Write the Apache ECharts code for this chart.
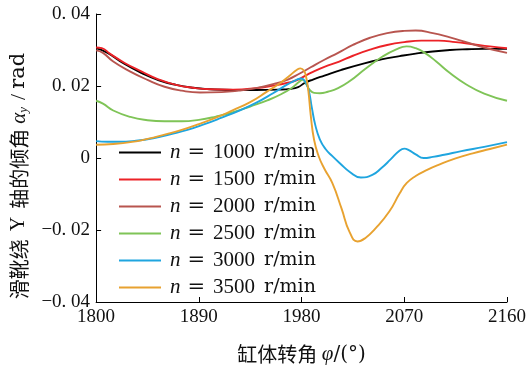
<!DOCTYPE html>
<html>
<head>
<meta charset="utf-8">
<script src="https://cdn.jsdelivr.net/npm/echarts@6/dist/echarts.min.js"></script>
<style>html,body{margin:0;padding:0;background:#fff;}#c{width:529px;height:370px;}</style>
</head>
<body>
<div id="c"></div>
<script>
const speeds = [1000, 1500, 2000, 2500, 3000, 3500];
const xTicks = [1800, 1890, 1980, 2070, 2160];
const yTicks = [-0.04, -0.02, 0, 0.02, 0.04];

const s1000 = [[1800,0.0305],[1810,0.0292],[1825,0.0261],[1840,0.0236],[1855,0.0216],[1870,0.0203],[1885,0.0195],[1900,0.0191],[1920,0.0189],[1940,0.0189],[1960,0.0190],[1970,0.0192],[1977,0.0197],[1983,0.0209],[1990,0.0218],[2000,0.0229],[2015,0.0245],[2035,0.0263],[2050,0.0274],[2066,0.0283],[2080,0.0290],[2095,0.0296],[2110,0.0300],[2125,0.0302],[2140,0.0303],[2160,0.0303]];
const s1500 = [[1800,0.0307],[1805,0.0305],[1812,0.0290],[1825,0.0264],[1840,0.0240],[1855,0.0218],[1870,0.0203],[1885,0.0195],[1900,0.0191],[1920,0.0190],[1940,0.0194],[1955,0.0201],[1968,0.0209],[1976,0.0216],[1983,0.0228],[1990,0.0239],[2000,0.0253],[2013,0.0268],[2025,0.0284],[2040,0.0301],[2055,0.0314],[2070,0.0322],[2085,0.0326],[2100,0.0326],[2115,0.0322],[2130,0.0316],[2145,0.0310],[2160,0.0305]];
const s2000 = [[1800,0.0299],[1806,0.0292],[1815,0.0268],[1830,0.0240],[1845,0.0217],[1860,0.0198],[1875,0.0187],[1891,0.0182],[1910,0.0183],[1925,0.0187],[1940,0.0194],[1955,0.0205],[1968,0.0218],[1978,0.0234],[1988,0.0252],[2000,0.0273],[2012,0.0292],[2025,0.0314],[2040,0.0334],[2055,0.0347],[2070,0.0353],[2080,0.0354],[2095,0.0347],[2110,0.0335],[2125,0.0321],[2140,0.0307],[2160,0.0292]];
const s2500 = [[1800,0.0159],[1806,0.0151],[1815,0.0132],[1830,0.0114],[1845,0.0105],[1860,0.0102],[1875,0.0102],[1890,0.0106],[1905,0.0115],[1920,0.0127],[1935,0.0143],[1950,0.0160],[1962,0.0177],[1972,0.0196],[1978,0.0212],[1981,0.0217],[1984,0.0206],[1987,0.0190],[1991,0.0181],[1996,0.0180],[2003,0.0184],[2012,0.0194],[2022,0.0213],[2036,0.0248],[2051,0.0282],[2063,0.0302],[2072,0.0310],[2080,0.0305],[2088,0.0292],[2098,0.0268],[2110,0.0236],[2124,0.0205],[2140,0.0179],[2160,0.0159]];
const s3000 = [[1800,0.0047],[1810,0.0045],[1820,0.0045],[1835,0.0048],[1850,0.0055],[1865,0.0066],[1880,0.0078],[1895,0.0094],[1910,0.0112],[1925,0.0131],[1940,0.0153],[1955,0.0180],[1968,0.0205],[1976,0.0218],[1980,0.0221],[1983,0.0213],[1986,0.0192],[1989,0.0140],[1992,0.0092],[1996,0.0052],[2001,0.0025],[2007,0.0005],[2014,-0.0016],[2022,-0.0038],[2032,-0.0054],[2042,-0.0047],[2050,-0.0028],[2058,-0.0004],[2066,0.0021],[2070,0.0026],[2074,0.0022],[2080,0.0010],[2087,0.0000],[2095,0.0003],[2105,0.0009],[2120,0.0019],[2140,0.0031],[2160,0.0044]];
const s3500 = [[1800,0.0037],[1815,0.0039],[1830,0.0044],[1845,0.0053],[1860,0.0065],[1875,0.0078],[1890,0.0094],[1905,0.0112],[1920,0.0133],[1935,0.0155],[1950,0.0185],[1962,0.0210],[1970,0.0230],[1976,0.0245],[1979,0.0249],[1982,0.0243],[1984,0.0225],[1986,0.0185],[1988,0.0120],[1991,0.0050],[1995,0.0005],[2000,-0.0030],[2007,-0.0070],[2015,-0.0140],[2022,-0.0205],[2029,-0.0232],[2036,-0.0222],[2045,-0.0195],[2057,-0.0148],[2066,-0.0098],[2072,-0.0070],[2080,-0.0050],[2090,-0.0033],[2100,-0.0019],[2115,-0.0001],[2130,0.0013],[2145,0.0025],[2160,0.0037]];

const seriesData = [s1000, s1500, s2000, s2500, s3000, s3500];
const colors = ['#000000', '#ec2227', '#b8554f', '#7fc457', '#1fa5df', '#e8a230'];

const lib = "'Liberation Serif', serif";
const dvs = "'DejaVu Serif', serif";
const cjk = "'Noto Sans CJK SC', sans-serif";
const ink = '#111';

function fmtY(v) {
  if (Math.abs(v) < 1e-9) return '0';
  const s = Math.abs(v).toFixed(2).replace('.', '. ');
  return (v < 0 ? '\u2212' : '') + s;
}

const chart = echarts.init(document.getElementById('c'), null, {renderer: 'canvas'});
chart.setOption({
  animation: false,
  backgroundColor: '#fff',
  color: colors,
  grid: {left: 96, right: 21, top: 14, bottom: 65},
  legend: {
    orient: 'vertical',
    left: 114,
    top: 137,
    icon: 'rect',
    itemWidth: 42,
    itemHeight: 2,
    itemGap: 6,
    data: speeds.map(s => String(s)),
    formatter: name => '{i|n}{e|=}{d|' + name + '}{u|r/min}',
    textStyle: {
      fontFamily: lib, fontSize: 20, color: ink, lineHeight: 20,
      padding: [0, 0, 0, 4],
      rich: {
        i: {fontFamily: lib, fontStyle: 'italic', fontSize: 21, color: ink, lineHeight: 20, padding: [0, 7, 0, 0]},
        e: {fontFamily: dvs, fontSize: 21, color: ink, lineHeight: 20, padding: [0, 8, 0, 0]},
        d: {fontFamily: lib, fontSize: 21, color: ink, lineHeight: 20, padding: [0, 9, 0, 0]},
        u: {fontFamily: dvs, fontSize: 19, color: ink, lineHeight: 20}
      }
    }
  },
  xAxis: {
    type: 'value',
    min: 1800, max: 2160, interval: 90,
    name: '{c|缸体转角} {g|φ}{l|/(°)}',
    nameLocation: 'middle',
    nameGap: 42,
    nameTextStyle: {fontFamily: cjk, fontSize: 20, color: ink,
      rich: {
        c: {fontFamily: cjk, fontSize: 20, color: ink},
        g: {fontFamily: lib, fontStyle: 'italic', fontSize: 21, color: ink},
        l: {fontFamily: dvs, fontSize: 20, color: ink}
      }},
    axisLine: {show: true, onZero: false, lineStyle: {color: '#000', width: 1}},
    axisTick: {show: true, inside: true, length: 5, lineStyle: {color: '#000'}},
    axisLabel: {fontFamily: lib, fontSize: 19, color: ink, margin: 6,
      formatter: v => xTicks.includes(v) ? String(v) : ''},
    splitLine: {show: false}
  },
  yAxis: {
    type: 'value',
    min: -0.04, max: 0.04, interval: 0.02,
    name: '{c|滑靴绕}{l|Y}{c|轴的倾角}{g|α}{s|y}{sl|/}{r|rad}',
    nameLocation: 'middle',
    nameRotate: 90,
    nameGap: 52,
    nameTextStyle: {fontFamily: cjk, fontSize: 20, color: ink, padding: [0, 36, 0, 0],
      rich: {
        c: {fontFamily: cjk, fontSize: 20, color: ink},
        l: {fontFamily: lib, fontSize: 20, color: ink, padding: [0, 8, 0, 8]},
        g: {fontFamily: lib, fontStyle: 'italic', fontSize: 21, color: ink, padding: [0, 0, 0, 5]},
        s: {fontFamily: lib, fontStyle: 'italic', fontSize: 13, color: ink, padding: [10, 2, 0, 0]},
        sl: {fontFamily: lib, fontSize: 22, color: ink, padding: [0, 5, 0, 5]},
        r: {fontFamily: dvs, fontSize: 21, color: ink}
      }},
    axisLine: {show: true, onZero: false, lineStyle: {color: '#000', width: 1}},
    axisTick: {show: true, inside: true, length: 5, lineStyle: {color: '#000'}},
    axisLabel: {fontFamily: lib, fontSize: 19, color: ink, margin: 6,
      formatter: v => yTicks.some(t => Math.abs(t - v) < 1e-9) ? fmtY(v) : ''},
    splitLine: {show: false}
  },
  series: speeds.map((s, i) => ({
    name: String(s),
    type: 'line',
    data: seriesData[i],
    showSymbol: false,
    smooth: 0.5,
    lineStyle: {width: 1.9, color: colors[i]},
    itemStyle: {color: colors[i]}
  }))
});
</script>
</body>
</html>
